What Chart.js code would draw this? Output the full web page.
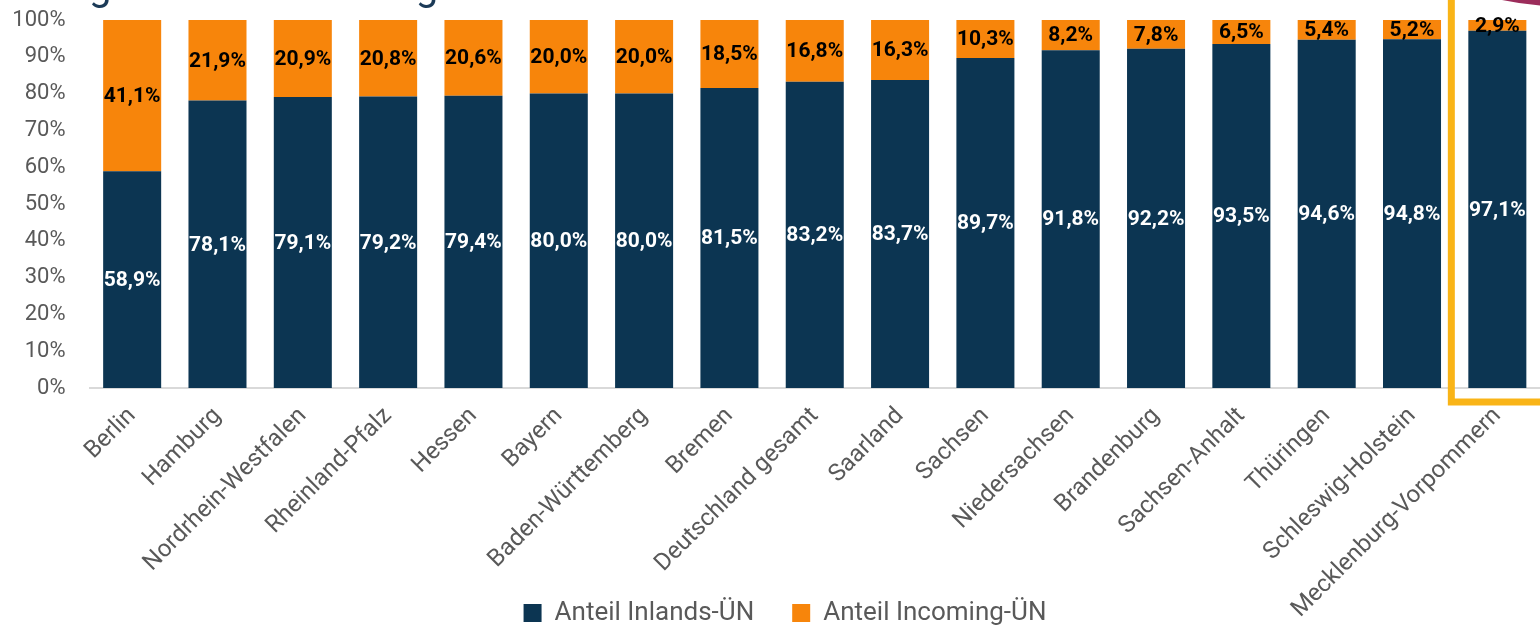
<!DOCTYPE html>
<html lang="de">
<head>
<meta charset="utf-8">
<title>Anteil Inlands- und Incoming-Übernachtungen nach Bundesland</title>
<script src="https://cdn.jsdelivr.net/npm/chart.js@4.4.1/dist/chart.umd.min.js"></script>
<style>
  html, body { margin: 0; padding: 0; background: #fff; }
  #wrap { position: relative; width: 1540px; height: 628px; overflow: hidden; }
</style>
</head>
<body>
<div id="wrap"><canvas id="chart"></canvas></div>
<script>
const laender = [
  'Berlin', 'Hamburg', 'Nordrhein-Westfalen', 'Rheinland-Pfalz', 'Hessen', 'Bayern',
  'Baden-Württemberg', 'Bremen', 'Deutschland gesamt', 'Saarland', 'Sachsen',
  'Niedersachsen', 'Brandenburg', 'Sachsen-Anhalt', 'Thüringen', 'Schleswig-Holstein',
  'Mecklenburg-Vorpommern'
];
const anteilInland = [58.9, 78.1, 79.1, 79.2, 79.4, 80.0, 80.0, 81.5, 83.2, 83.7, 89.7, 91.8, 92.2, 93.5, 94.6, 94.8, 97.1];
const anteilIncoming = [41.1, 21.9, 20.9, 20.8, 20.6, 20.0, 20.0, 18.5, 16.8, 16.3, 10.3, 8.2, 7.8, 6.5, 5.4, 5.2, 2.9];
const titel = 'Verteilung der Übernachtungen nach Herkunft der Gäste';

const NAVY = '#0c3552';
const ORANGE = '#f7850b';
const GRAU = '#595959';
const FONT = 'Roboto, "Noto Sans", sans-serif';

function formatProzent(v) {
    return v.toFixed(1).replace('.', ',') + '%';
}

// Achsenbeschriftung darf über den eigenen Achsenbereich hinausragen
function ohneClip(scale) {
    scale._computeLabelArea = () => undefined;
}

// Werte mittig in die Balkensegmente schreiben
const balkenWerte = {
    id: 'balkenWerte',
    afterDatasetsDraw(chart) {
        const ctx = chart.ctx;
        ctx.save();
        ctx.font = 'bold 21px ' + FONT;
        ctx.textAlign = 'center';
        ctx.textBaseline = 'middle';
        chart.data.datasets.forEach((ds, i) => {
            const meta = chart.getDatasetMeta(i);
            ctx.fillStyle = ds.wertFarbe;
            meta.data.forEach((bar, j) => {
                ctx.fillText(formatProzent(ds.data[j]), bar.x, (bar.y + bar.base) / 2 + 1);
            });
        });
        ctx.restore();
    }
};

// Markierung um den letzten Balken, angeschnittener Titel, Logo-Bogen
const deko = {
    id: 'deko',
    afterDraw(chart) {
        const ctx = chart.ctx;
        const area = chart.chartArea;
        const meta = chart.getDatasetMeta(0);
        const last = meta.data[meta.data.length - 1];
        ctx.save();

        ctx.strokeStyle = '#f9b417';
        ctx.lineWidth = 7;
        const left = last.x - last.width / 2 - 17;
        ctx.strokeRect(left, -20, chart.width + 40 - left, area.bottom + 14 + 20);

        ctx.font = '40px ' + FONT;
        ctx.fillStyle = '#1b3a57';
        ctx.textBaseline = 'alphabetic';
        ctx.textAlign = 'left';
        ctx.fillText(titel, 89 - ctx.measureText('Verteilun').width, 0);

        ctx.strokeStyle = '#9c2d5b';
        ctx.lineWidth = 7;
        ctx.beginPath();
        ctx.arc(1565, -300, 303, 0, Math.PI);
        ctx.stroke();

        ctx.restore();
    }
};

new Chart(document.getElementById('chart'), {
    type: 'bar',
    data: {
        labels: laender,
        datasets: [
            {
                label: 'Anteil Inlands-ÜN',
                data: anteilInland,
                backgroundColor: NAVY,
                wertFarbe: '#ffffff',
                categoryPercentage: 1,
                barPercentage: 0.68
            },
            {
                label: 'Anteil Incoming-ÜN',
                data: anteilIncoming,
                backgroundColor: ORANGE,
                wertFarbe: '#000000',
                categoryPercentage: 1,
                barPercentage: 0.68
            }
        ]
    },
    options: {
        responsive: true,
        maintainAspectRatio: false,
        animation: false,
        layout: { padding: { top: 20, left: 30, right: 0, bottom: 0 } },
        scales: {
            x: {
                stacked: true,
                grid: { display: false, drawTicks: false },
                border: { display: true, color: '#d9d9d9', width: 2 },
                ticks: {
                    autoSkip: false,
                    minRotation: 45,
                    maxRotation: 45,
                    padding: 14,
                    color: GRAU,
                    font: { family: FONT, size: 24 }
                },
                afterFit(scale) {
                    scale.height = 174;
                    ohneClip(scale);
                }
            },
            y: {
                stacked: true,
                min: 0,
                max: 100,
                grid: { display: false, drawTicks: false },
                border: { display: false },
                ticks: {
                    stepSize: 10,
                    padding: 24,
                    color: GRAU,
                    font: { family: FONT, size: 22 },
                    callback: (v) => v + '%'
                },
                afterFit(scale) {
                    scale.width = 59.5;
                    scale.paddingTop = 0;
                    scale.paddingBottom = 0;
                    ohneClip(scale);
                }
            }
        },
        plugins: {
            legend: {
                position: 'bottom',
                maxHeight: 66,
                labels: {
                    boxWidth: 18,
                    boxHeight: 18,
                    padding: 38,
                    color: GRAU,
                    font: { family: FONT, size: 26 }
                }
            },
            tooltip: { enabled: false }
        }
    },
    plugins: [balkenWerte, deko]
});
</script>
</body>
</html>
